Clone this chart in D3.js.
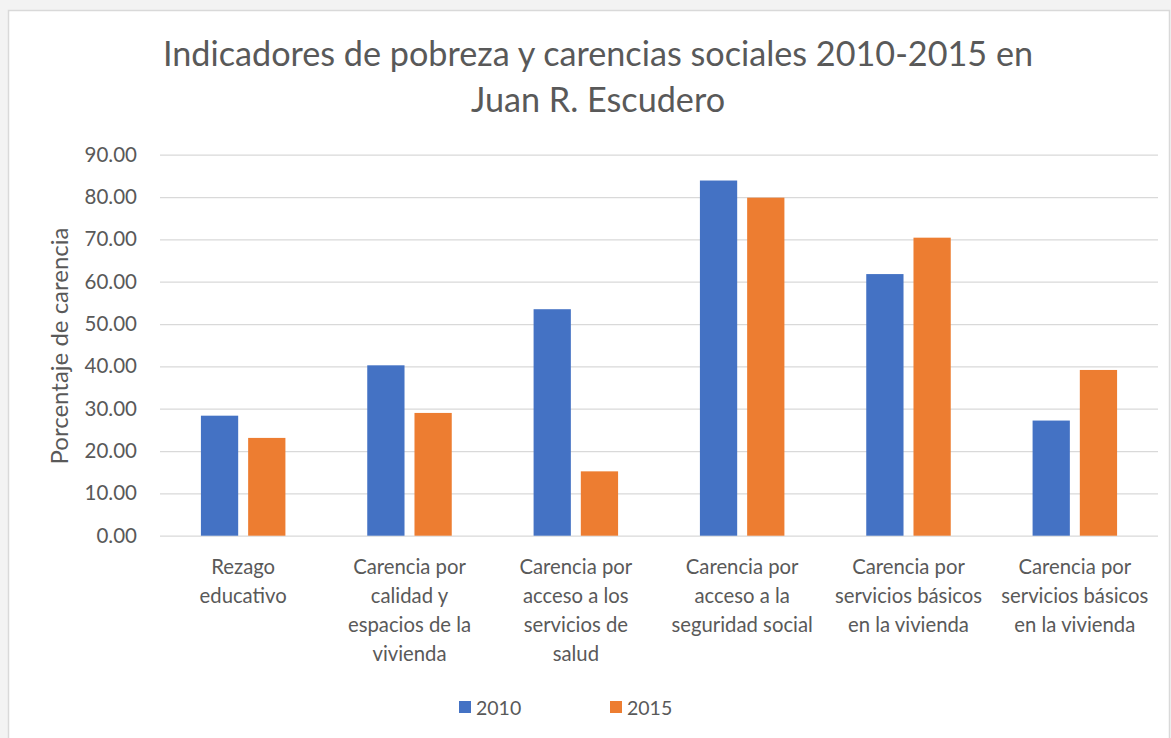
<!DOCTYPE html>
<html>
<head>
<meta charset="utf-8">
<script src="https://cdn.jsdelivr.net/npm/d3@7"></script>
<style>
  html, body { margin: 0; padding: 0; background: #f3f3f3; }
  svg { display: block; font-family: Lato, "Open Sans", sans-serif; }
</style>
</head>
<body>
<div id="chart"></div>
<script>
// datos del gráfico
const categoryLines = [
  ['Rezago', 'educativo'],
  ['Carencia por', 'calidad y', 'espacios de la', 'vivienda'],
  ['Carencia por', 'acceso a los', 'servicios de', 'salud'],
  ['Carencia por', 'acceso a la', 'seguridad social'],
  ['Carencia por', 'servicios básicos', 'en la vivienda'],
  ['Carencia por', 'servicios básicos', 'en la vivienda']
];
const seriesNames = ['2010', '2015'];
const values2010 = [28.35, 40.25, 53.5, 83.9, 61.8, 27.2];
const values2015 = [23.1, 29.0, 15.2, 79.85, 70.4, 39.15];
const yTicks = [0, 10, 20, 30, 40, 50, 60, 70, 80, 90];
const titleLines = ['Indicadores de pobreza y carencias sociales 2010-2015 en', 'Juan R. Escudero'];
const yTitle = 'Porcentaje de carencia';

const colors = {'2010': '#4472c4', '2015': '#ed7d31'};
const textColor = '#595959';
const gridColor = '#d9d9d9';

const width = 1171, height = 738;
const plot = {left: 160, right: 1158, top: 154.7, bottom: 535.7};

const svg = d3.select('#chart').append('svg')
  .attr('width', width)
  .attr('height', height);

// fondo y marco del área del gráfico
svg.append('rect')
  .attr('x', 8.5).attr('y', 10.5)
  .attr('width', 1161).attr('height', 740)
  .attr('fill', '#ffffff')
  .attr('stroke', gridColor)
  .attr('stroke-width', 1.5);

// título
svg.append('g').selectAll('text')
  .data(titleLines)
  .join('text')
  .attr('x', 598)
  .attr('y', (d, i) => 66 + i * 46)
  .attr('text-anchor', 'middle')
  .attr('fill', textColor)
  .attr('font-size', 34.2)
  .text(d => d);

const x = d3.scaleBand()
  .domain(d3.range(categoryLines.length))
  .range([plot.left, plot.right]);

const y = d3.scaleLinear()
  .domain([0, 90])
  .range([plot.bottom, plot.top]);

const groupW = x.bandwidth() * 0.508;
const x1 = d3.scaleBand()
  .domain(seriesNames)
  .range([0, groupW])
  .paddingInner(0.211);

// líneas de cuadrícula + etiquetas del eje y
const gY = svg.append('g')
  .attr('transform', `translate(${plot.left},0)`)
  .call(d3.axisLeft(y).tickValues(yTicks).tickFormat(d3.format('.2f'))
    .tickSizeInner(-(plot.right - plot.left)).tickSizeOuter(0).tickPadding(23));
gY.select('.domain').remove();
gY.selectAll('line').attr('stroke', gridColor).attr('stroke-width', 1.3);
gY.selectAll('text')
  .attr('fill', textColor)
  .attr('font-size', 20.5)
  .attr('font-family', 'Lato, sans-serif');

// barras
const rows = categoryLines.map((c, i) => ({i, '2010': values2010[i], '2015': values2015[i]}));

svg.append('g').selectAll('g')
  .data(rows)
  .join('g')
  .attr('transform', d => `translate(${x(d.i) + x.bandwidth() / 2 - groupW / 2},0)`)
  .selectAll('rect')
  .data(d => seriesNames.map(s => ({s, v: d[s]})))
  .join('rect')
  .attr('x', d => x1(d.s))
  .attr('y', d => y(d.v))
  .attr('width', x1.bandwidth())
  .attr('height', d => y(0) - y(d.v))
  .attr('fill', d => colors[d.s]);

// etiquetas del eje x
svg.append('g').selectAll('text')
  .data(categoryLines.map((lines, i) => ({lines, i})))
  .join('text')
  .attr('text-anchor', 'middle')
  .attr('fill', textColor)
  .attr('font-size', 20.3)
  .selectAll('tspan')
  .data(d => d.lines.map((l, k) => ({l, k, i: d.i})))
  .join('tspan')
  .attr('x', d => x(d.i) + x.bandwidth() / 2)
  .attr('y', d => 573.5 + d.k * 29.2)
  .text(d => d.l);

// título del eje y
svg.append('text')
  .attr('transform', 'translate(68,346) rotate(-90)')
  .attr('text-anchor', 'middle')
  .attr('fill', textColor)
  .attr('font-size', 24)
  .text(yTitle);

// leyenda
const legend = svg.append('g').selectAll('g')
  .data(seriesNames)
  .join('g')
  .attr('transform', (d, i) => `translate(${459 + i * 151},0)`);
legend.append('rect')
  .attr('x', 0).attr('y', 701)
  .attr('width', 12).attr('height', 12)
  .attr('fill', d => colors[d]);
legend.append('text')
  .attr('x', 17).attr('y', 714.5)
  .attr('fill', textColor)
  .attr('font-size', 19.5)
  .text(d => d);
</script>
</body>
</html>
